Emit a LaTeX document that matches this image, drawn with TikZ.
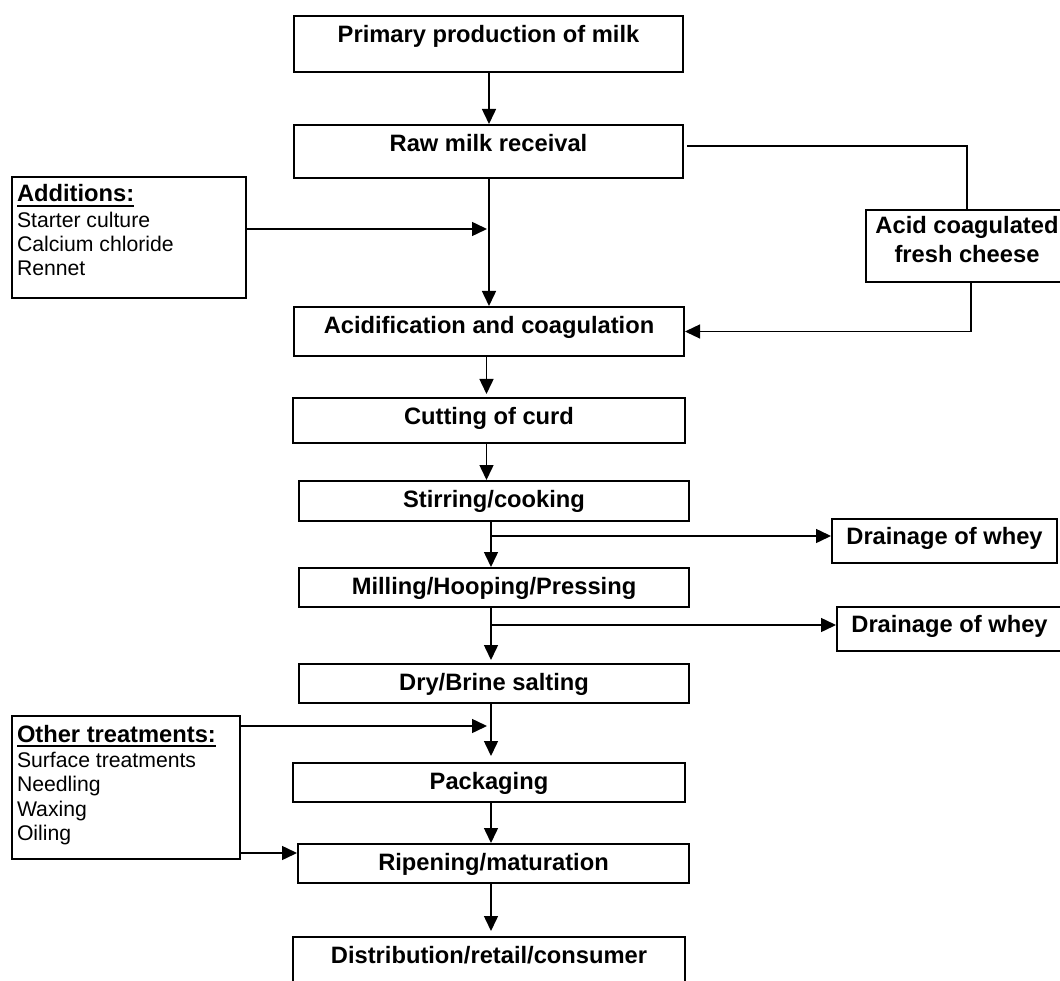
\documentclass[tikz,border=0pt]{standalone}
\usepackage{fontspec}
\setmainfont{Liberation Sans}
\usetikzlibrary{positioning,arrows.meta,calc}
\newcommand\ulhead[1]{\leavevmode\setbox0\hbox{\fontsize{23.7}{24}\selectfont\bfseries #1}\rlap{\rule[-5pt]{\wd0}{2.4pt}}\box0}
\tikzset{
  stage/.style={draw,line width=2pt,inner sep=0pt,anchor=north,minimum width=390pt,
    text height=26.5pt,text depth=#1,font=\fontsize{23.7}{28}\selectfont\bfseries},
  stage/.default=12.5pt,
  drain/.style={draw,line width=2pt,inner sep=0pt,anchor=north,minimum width=225pt,
    text height=25.5pt,text depth=18.5pt,font=\fontsize{23.7}{28}\selectfont\bfseries},
  sidebox/.style={draw,line width=2pt,anchor=north west,inner xsep=5pt,inner ysep=0pt},
  flow/.style={line width=1.5pt}
}

\begin{document}
\begin{tikzpicture}[x=1pt,y=-1pt,>={Triangle[length=15pt,width=14pt]}]
\useasboundingbox (0,0) rectangle (1060,981);
\clip (0,0) rectangle (1060,981);
% main chain
\node[stage=29.5pt,minimum width=389pt] (prim) at (488.5,15) {Primary production of milk};
\node[stage=26.5pt,minimum width=389pt] (raw) at (488.5,124) {Raw milk receival};
\node[stage=22.5pt] (acid) at (489,306) {Acidification and coagulation};
\node[stage=18.5pt,minimum width=392pt] (cut) at (489,397) {Cutting of curd};
\node[stage=13.5pt] (stir) at (494,480) {Stirring/cooking};
\node[stage] (mill) at (494,567) {Milling/Hooping/Pressing};
\node[stage] (salt) at (494,663) {Dry/Brine salting};
\node[stage,minimum width=392pt] (pack) at (489,762) {Packaging};
\node[stage,minimum width=391pt] (ripe) at (493.5,843) {Ripening/maturation};
\node[stage=40pt,minimum width=392pt] (dist) at (489,936) {Distribution/retail/consumer};
% side boxes
\node[sidebox,text height=25pt,text depth=96pt] (adds) at (11,176)
  {\parbox[t]{224pt}{\fontsize{21.2}{24.1}\selectfont\ulhead{Additions:}\\[1.6pt]Starter culture\\Calcium chloride\\Rennet}};
\node[sidebox,text height=26pt,text depth=117pt] (other) at (11,715)
  {\parbox[t]{218pt}{\fontsize{21.2}{24.5}\selectfont\ulhead{Other treatments:}\\[0.5pt]Surface treatments\\Needling\\Waxing\\Oiling}};
\node[draw,line width=2pt,inner sep=0pt,anchor=north,text height=24pt,text depth=48pt,
  font=\fontsize{23.7}{29}\selectfont\bfseries] (fresh) at (967,209)
  {\parbox[t]{202pt}{\centering Acid coagulated\\fresh cheese}};
\node[drain] (whey1) at (944.5,518) {Drainage of whey};
\node[drain] (whey2) at (949.5,606) {Drainage of whey};
% helper points
\coordinate (up) at (489,0);
\coordinate (mid) at (486.5,0);
\coordinate (low) at (491,0);
\coordinate (addtip) at (487,229);
\coordinate (othtip) at (487,726);
\coordinate (split1) at (491,536);
\coordinate (split2) at (491,625);
% arrows
\draw[flow,->] (prim.south -| up) -- (raw.north -| up);
\draw[flow,->] (raw.south -| up) -- (acid.north -| up);
\draw[flow,->] (adds.east |- addtip) -- (addtip);
\draw[line width=1.3pt] ([xshift=3pt]raw.east |- 0,146) -| (fresh.north);
\draw[line width=1.3pt,->] ([xshift=4pt]fresh.south) |- (acid.east);
\draw[flow,->] (acid.south -| mid) -- ([yshift=3pt]cut.north -| mid);
\draw[flow,->] (cut.south -| mid) -- (stir.north -| mid);
\draw[flow,->] (stir.south -| low) -- (mill.north -| low);
\draw[flow,->] (split1) -- (split1 -| whey1.west);
\draw[flow,->] (mill.south -| low) -- ([yshift=3pt]salt.north -| low);
\draw[flow,->] (split2) -- (split2 -| whey2.west);
\draw[flow,->] (salt.south -| low) -- ([yshift=6pt]pack.north -| low);
\draw[flow,->] (other.east |- othtip) -- (othtip);
\draw[flow,->] (pack.south -| low) -- (ripe.north -| low);
\draw[flow,->] (other.east |- 0,853) -- (ripe.west |- 0,853);
\draw[flow,->] (ripe.south -| low) -- ([yshift=5pt]dist.north -| low);
\end{tikzpicture}
\end{document}
